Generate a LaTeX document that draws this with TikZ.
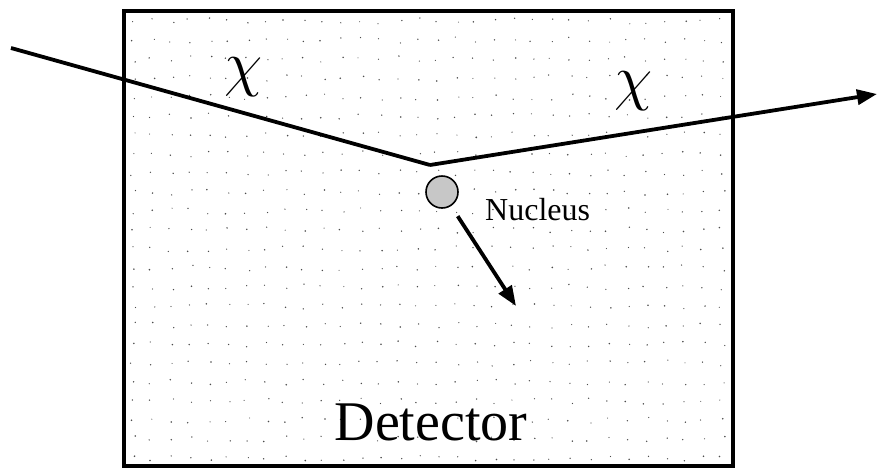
\documentclass[tikz,border=0pt]{standalone}
\usepackage{fontspec}
\setmainfont{Liberation Serif}
\usetikzlibrary{arrows.meta}
\begin{document}
\begin{tikzpicture}[x=1pt,y=-1pt,
  track/.style={line width=3.8pt, line join=miter},
  arr/.style={-{Triangle[length=20pt,width=15pt]}},
  lbl/.style={inner sep=0pt, anchor=center},
  stip/.style={fill=black!70}]
\useasboundingbox (0,0) rectangle (879,472);
% stipple
\pgfmathsetseed{7}
\foreach \x in {133,152,...,725}
  \foreach \y in {21,40,...,460}{
    \pgfmathsetmacro{\dx}{3*rand}
    \pgfmathsetmacro{\dy}{3*rand}
    \pgfmathsetmacro{\rr}{0.55+0.35*rnd}
    \fill[stip] (\x+\dx,\y+\dy) circle (\rr);
  }
\draw[line width=4.5pt] (124,11) rectangle (733,466);
% coordinates
\coordinate (in) at (11,48);
\coordinate (vx) at (430,165);
\coordinate (out) at (877,94);
\coordinate (recoil) at (516,306);
\node[circle, draw, line width=1.6pt, fill=black!22, minimum size=32pt, inner sep=0pt] (nuc) at (442,192) {};
\draw[track] (in) -- (vx);
\draw[track, arr] (vx) -- (out);
\draw[track, arr, shorten <=12pt] (nuc) -- (recoil);
\node[lbl, scale=2.5] (chi1) at (244,77) {\Huge$\chi$};
\node[lbl, scale=2.5] (chi2) at (634,91) {\Huge$\chi$};
\node[lbl, anchor=base west] (nucl) at (485,220) {\fontsize{32}{36}\selectfont Nucleus};
\node[lbl, anchor=base] (det) at (431,440) {\fontsize{56}{64}\selectfont Detector};
\end{tikzpicture}
\end{document}
